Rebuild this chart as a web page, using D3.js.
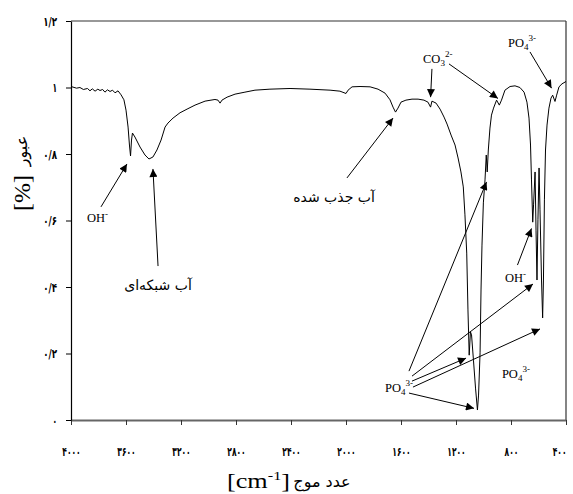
<!DOCTYPE html>
<html>
<head>
<meta charset="utf-8">
<script src="https://cdn.jsdelivr.net/npm/d3@7"></script>
<style>
  body { margin: 0; background: #fff; }
  svg { display: block; }
  .tick text { font-family: "DejaVu Sans", sans-serif; font-weight: bold; font-size: 12.5px; fill: #000; }
  .lbl { font-family: "Liberation Serif", serif; font-size: 12.5px; }
  .fa { font-family: "DejaVu Sans", sans-serif; }
</style>
</head>
<body>
<svg id="chart" width="573" height="494"></svg>
<script>
// spectrum: wavenumber [cm-1] and transmittance
const wavenumber = [
  4000, 3960, 3935, 3910, 3880, 3862, 3845, 3825, 3805, 3789, 3770, 3753, 3735, 3716, 3698, 3680, 3658, 3636,
  3615, 3600, 3585, 3575, 3567, 3560, 3553, 3535, 3498, 3462, 3433, 3404, 3375, 3345, 3316, 3295, 3258, 3207,
  3156, 3098, 3025, 2953, 2931, 2916, 2902, 2865, 2807, 2735, 2662, 2553, 2407, 2262, 2116, 2044, 2000, 1985,
  1956, 1898, 1825, 1767, 1716, 1680, 1658, 1640, 1622, 1600, 1564, 1520, 1476, 1433, 1404, 1385, 1375, 1345,
  1316, 1287, 1265, 1236, 1207, 1185, 1164, 1147, 1135, 1122, 1113, 1104, 1095, 1087, 1073, 1058, 1044, 1036,
  1025, 1018, 1011, 1001, 989, 980, 973, 965, 953, 942, 927, 905, 885, 869, 844, 807, 771, 735,
  705, 684, 669, 658, 651, 642, 636, 625, 618, 611, 604, 596, 589, 578, 570, 564, 557, 549,
  538, 524, 509, 497, 480, 468, 451, 429, 400
];
const transmittance = [
  1.003, 0.998, 1.000, 0.994, 0.997, 0.990, 0.996, 0.989, 0.995, 0.991, 0.994, 0.986, 0.993, 0.988, 0.992, 0.984, 0.990, 0.978,
  0.963, 0.932, 0.881, 0.827, 0.794, 0.842, 0.863, 0.851, 0.821, 0.797, 0.785, 0.791, 0.812, 0.842, 0.881, 0.893, 0.908, 0.924,
  0.935, 0.947, 0.959, 0.964, 0.962, 0.953, 0.962, 0.971, 0.980, 0.986, 0.992, 0.995, 0.997, 0.995, 0.992, 0.989, 0.982, 0.992,
  1.002, 1.003, 1.002, 0.995, 0.983, 0.963, 0.941, 0.926, 0.938, 0.956, 0.962, 0.965, 0.965, 0.962, 0.956, 0.941, 0.959, 0.953,
  0.935, 0.911, 0.890, 0.857, 0.827, 0.788, 0.746, 0.701, 0.617, 0.502, 0.331, 0.195, 0.265, 0.256, 0.180, 0.096, 0.030, 0.075,
  0.202, 0.391, 0.526, 0.653, 0.722, 0.797, 0.746, 0.812, 0.878, 0.917, 0.938, 0.962, 0.947, 0.962, 0.992, 1.003, 1.005, 1.000,
  0.986, 0.956, 0.908, 0.827, 0.722, 0.595, 0.647, 0.746, 0.571, 0.421, 0.602, 0.758, 0.632, 0.421, 0.307, 0.421, 0.662, 0.812,
  0.887, 0.938, 0.968, 0.977, 0.958, 0.977, 1.002, 1.011, 1.018
];

const xTicks = [4000, 3600, 3200, 2800, 2400, 2000, 1600, 1200, 800, 400];
const yTicks = [0, 0.2, 0.4, 0.6, 0.8, 1, 1.2];

// annotations in data units: label position, arrows [fromWn, fromT, toWn, toT]
const labels = [
  {kind: "ion", base: "OH", sub: "", sup: "-", wn: 3884, t: 0.595},
  {kind: "ion", base: "CO", sub: "3", sup: "2-", wn: 1440, t: 1.074},
  {kind: "ion", base: "PO", sub: "4", sup: "3-", wn: 822, t: 1.122},
  {kind: "ion", base: "OH", sub: "", sup: "-", wn: 844, t: 0.415},
  {kind: "ion", base: "PO", sub: "4", sup: "3-", wn: 1716, t: 0.084},
  {kind: "ion", base: "PO", sub: "4", sup: "3-", wn: 866, t: 0.126},
  {kind: "fa", text: "آب شبکه‌ای", wn: 3367, t: 0.391},
  {kind: "fa", text: "آب جذب شده", wn: 2087, t: 0.656}
];
const arrows = [
  [3782, 0.641, 3593, 0.770],
  [3367, 0.463, 3404, 0.755],
  [1993, 0.728, 1658, 0.908],
  [1375, 1.056, 1385, 0.971],
  [1251, 1.071, 895, 0.967],
  [662, 1.107, 505, 0.998],
  [753, 0.466, 651, 0.576],
  [1542, 0.147, 978, 0.716],
  [1520, 0.132, 640, 0.409],
  [1520, 0.117, 1127, 0.186],
  [1513, 0.099, 589, 0.274],
  [1542, 0.081, 1069, 0.035]
];

const faDigits = "۰۱۲۳۴۵۶۷۸۹";
const toFa = s => String(s).replace(/[0-9]/g, d => faDigits[+d]).replace(".", "/");

const svg = d3.select("#chart");
const m = {left: 71, right: 566, top: 21, bottom: 420};

const x = d3.scaleLinear().domain([4000, 400]).range([m.left, m.right]);
const y = d3.scaleLinear().domain([0, 1.2]).range([m.bottom, m.top]);

// frame top/right
svg.append("line").attr("x1", m.left).attr("x2", m.right).attr("y1", m.top).attr("y2", m.top)
  .attr("stroke", "#333").attr("stroke-width", 1.2);
svg.append("line").attr("x1", m.right).attr("x2", m.right).attr("y1", m.top).attr("y2", m.bottom)
  .attr("stroke", "#333").attr("stroke-width", 1.2);

// axes
const xAxis = svg.append("g").attr("transform", `translate(0,${m.bottom})`)
  .call(d3.axisBottom(x).tickValues(xTicks).tickSize(5).tickSizeOuter(0).tickPadding(22)
    .tickFormat(d => toFa(d)));
xAxis.select(".domain").attr("stroke", "#666").attr("stroke-width", 2);
xAxis.selectAll(".tick line").attr("stroke", "#333");

const yAxis = svg.append("g").attr("transform", `translate(${m.left},0)`)
  .call(d3.axisLeft(y).tickValues(yTicks).tickSize(5).tickSizeOuter(0).tickPadding(9)
    .tickFormat(d => toFa(d3.format("~g")(d))));
yAxis.select(".domain").attr("stroke", "#000").attr("stroke-width", 1.2);

// squeeze the digit labels to the narrow face of the reference
svg.selectAll(".tick text")
  .attr("textLength", function() { return this.textContent.length * 4.6; })
  .attr("lengthAdjust", "spacingAndGlyphs");

// last x label sits against the right edge: anchor it at its end
xAxis.selectAll(".tick text").filter(d => d === 400)
  .attr("text-anchor", "end").attr("dx", 0);

// spectrum
const pts = wavenumber.map((w, i) => [w, transmittance[i]]);
svg.append("path").datum(pts)
  .attr("fill", "none").attr("stroke", "#000").attr("stroke-width", 1)
  .attr("d", d3.line().x(d => x(d[0])).y(d => y(d[1])));

// arrow marker
svg.append("defs").append("marker")
  .attr("id", "head").attr("viewBox", "0 0 10 10").attr("refX", 10).attr("refY", 5)
  .attr("markerUnits", "userSpaceOnUse").attr("markerWidth", 9).attr("markerHeight", 8)
  .attr("orient", "auto")
  .append("path").attr("d", "M0,0 L10,5 L0,10 Z").attr("fill", "#000");

svg.append("g").selectAll("line").data(arrows).join("line")
  .attr("x1", d => x(d[0])).attr("y1", d => y(d[1]))
  .attr("x2", d => x(d[2])).attr("y2", d => y(d[3]))
  .attr("stroke", "#000").attr("stroke-width", 1)
  .attr("marker-end", "url(#head)");

// labels
labels.forEach(l => {
  if (l.kind === "fa") {
    svg.append("text").attr("class", "fa").attr("x", x(l.wn)).attr("y", y(l.t))
      .attr("text-anchor", "middle").attr("font-size", 14).text(l.text);
  } else {
    const t = svg.append("text").attr("class", "lbl").attr("x", x(l.wn)).attr("y", y(l.t));
    t.append("tspan").text(l.base);
    if (l.sub) t.append("tspan").attr("dy", 3).attr("font-size", 9).text(l.sub);
    t.append("tspan").attr("dy", l.sub ? -9 : -5).attr("font-size", 9).text(l.sup);
  }
});

// axis titles
svg.append("text").attr("class", "fa").attr("font-size", 16)
  .attr("transform", "translate(27,151) rotate(-90)").attr("text-anchor", "middle").text("عبور");
svg.append("text").attr("font-family", "Liberation Serif, serif").attr("font-size", 24)
  .attr("transform", "translate(30,193) rotate(-90)").attr("text-anchor", "middle").text("[%]");

svg.append("text").attr("class", "fa").attr("font-size", 16)
  .attr("x", 322).attr("y", 487).attr("text-anchor", "middle").text("عدد موج");
const cm = svg.append("text").attr("font-family", "Liberation Serif, serif").attr("font-size", 21)
  .attr("x", 227).attr("y", 488).attr("textLength", 63).attr("lengthAdjust", "spacingAndGlyphs");
cm.append("tspan").text("[cm");
cm.append("tspan").attr("dy", -8).attr("font-size", 13).text("-1");
cm.append("tspan").attr("dy", 8).text("]");
</script>
</body>
</html>
